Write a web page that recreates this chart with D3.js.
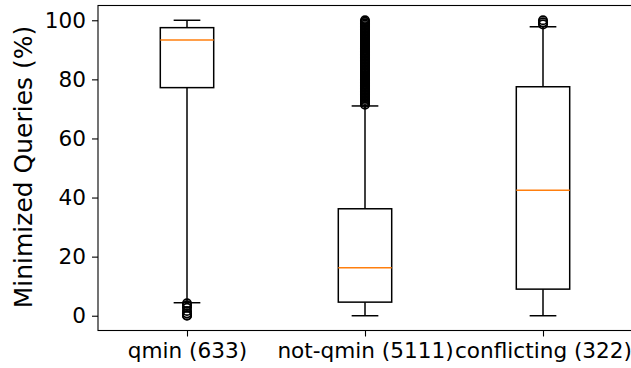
<!DOCTYPE html>
<html>
<head>
<meta charset="utf-8">
<script src="https://cdn.jsdelivr.net/npm/d3@7"></script>
<style>
  html, body { margin: 0; padding: 0; background: #fff; }
  svg { display: block; }
  text { font-family: "DejaVu Sans", sans-serif; fill: #000; }
</style>
</head>
<body>
<svg id="chart" width="631" height="368"></svg>
<script>
const categories = ["qmin (633)", "not-qmin (5111)", "conflicting (322)"];
const whiskerLow = [4.4, 0, 0];
const q1 = [77.2, 4.6, 9.0];
const median = [93.3, 16.2, 42.5];
const q3 = [97.5, 36.2, 77.5];
const whiskerHigh = [100, 71.0, 97.8];
const outliersQmin = [4.2, 3.5, 2.7, 1.6, 0.8, 0.2, 0];
const outliersNotQmin = [71.4, 72, 72.5, 73, 73.5, 74, 74.5, 75, 75.5, 76, 76.5, 77, 77.5, 78, 78.5, 79, 79.5, 80, 80.5, 81, 81.5, 82, 82.5, 83, 83.5, 84, 84.5, 85, 85.5, 86, 86.5, 87, 87.5, 88, 88.5, 89, 89.5, 90, 90.5, 91, 91.5, 92, 92.5, 93, 93.5, 94, 94.5, 95, 95.5, 96, 96.5, 97, 97.5, 98, 98.5, 99, 99.5, 100];
const outliersConflicting = [98.6, 99.3, 100];
const outliers = [outliersQmin, outliersNotQmin, outliersConflicting];
const yTicks = [0, 20, 40, 60, 80, 100];

const svg = d3.select("#chart");
const mLeft = 98, mTop = 5.5, mBottom = 330.5, mRight = 632;

const x = d3.scaleLinear().domain([0.5, 3.5]).range([mLeft, mRight]);
const y = d3.scaleLinear().domain([-5, 105]).range([mBottom, mTop]);

const boxW = x(1.3) - x(1);     // 0.3 data units wide
const capW = boxW / 2;
const lw = 1.5;

const data = categories.map((c, i) => ({
  cat: c, pos: i + 1,
  lo: whiskerLow[i], q1: q1[i], med: median[i], q3: q3[i], hi: whiskerHigh[i],
  out: outliers[i]
}));

const g = svg.append("g");
const boxes = g.selectAll("g.box").data(data).enter().append("g").attr("class", "box");

// whiskers
boxes.append("line")
  .attr("x1", d => x(d.pos)).attr("x2", d => x(d.pos))
  .attr("y1", d => y(d.q1)).attr("y2", d => y(d.lo))
  .attr("stroke", "#000").attr("stroke-width", lw);
boxes.append("line")
  .attr("x1", d => x(d.pos)).attr("x2", d => x(d.pos))
  .attr("y1", d => y(d.q3)).attr("y2", d => y(d.hi))
  .attr("stroke", "#000").attr("stroke-width", lw);
// caps
boxes.append("line")
  .attr("x1", d => x(d.pos) - capW / 2).attr("x2", d => x(d.pos) + capW / 2)
  .attr("y1", d => y(d.lo)).attr("y2", d => y(d.lo))
  .attr("stroke", "#000").attr("stroke-width", lw);
boxes.append("line")
  .attr("x1", d => x(d.pos) - capW / 2).attr("x2", d => x(d.pos) + capW / 2)
  .attr("y1", d => y(d.hi)).attr("y2", d => y(d.hi))
  .attr("stroke", "#000").attr("stroke-width", lw);
// box
boxes.append("rect")
  .attr("x", d => x(d.pos) - boxW / 2)
  .attr("width", boxW)
  .attr("y", d => y(d.q3))
  .attr("height", d => y(d.q1) - y(d.q3))
  .attr("fill", "none").attr("stroke", "#000").attr("stroke-width", lw);
// median
boxes.append("line")
  .attr("x1", d => x(d.pos) - boxW / 2).attr("x2", d => x(d.pos) + boxW / 2)
  .attr("y1", d => y(d.med)).attr("y2", d => y(d.med))
  .attr("stroke", "#ff7f0e").attr("stroke-width", lw);
// outliers
boxes.each(function(d) {
  d3.select(this).selectAll("circle").data(d.out).enter().append("circle")
    .attr("cx", x(d.pos)).attr("cy", v => y(v)).attr("r", 4.2)
    .attr("fill", "none").attr("stroke", "#000").attr("stroke-width", 1.7);
});

// axes
const yAxis = d3.axisLeft(y).tickValues(yTicks).tickSize(6).tickPadding(6).tickFormat(d3.format("d"));
const yg = svg.append("g").attr("transform", `translate(${mLeft},0)`).call(yAxis);
yg.select(".domain").remove();
yg.selectAll(".tick line").attr("stroke", "#000").attr("stroke-width", 1.1);
yg.selectAll(".tick text").attr("font-size", 21.6).attr("font-family", "DejaVu Sans").attr("fill", "#000");

const xAxis = d3.axisBottom(x).tickValues([1, 2, 3]).tickSize(6).tickPadding(6)
  .tickFormat(d => categories[d - 1]);
const xg = svg.append("g").attr("transform", `translate(0,${mBottom})`).call(xAxis);
xg.select(".domain").remove();
xg.selectAll(".tick line").attr("stroke", "#000").attr("stroke-width", 1.1);
xg.selectAll(".tick text").attr("font-size", 21.6).attr("font-family", "DejaVu Sans").attr("fill", "#000");

// spines
svg.append("rect").attr("x", mLeft).attr("y", mTop)
  .attr("width", mRight - mLeft).attr("height", mBottom - mTop)
  .attr("fill", "none").attr("stroke", "#000").attr("stroke-width", 1.1);

// y label
svg.append("text")
  .attr("transform", `translate(32,167) rotate(-90)`)
  .attr("text-anchor", "middle")
  .attr("font-size", 25)
  .text("Minimized Queries (%)");
</script>
</body>
</html>
